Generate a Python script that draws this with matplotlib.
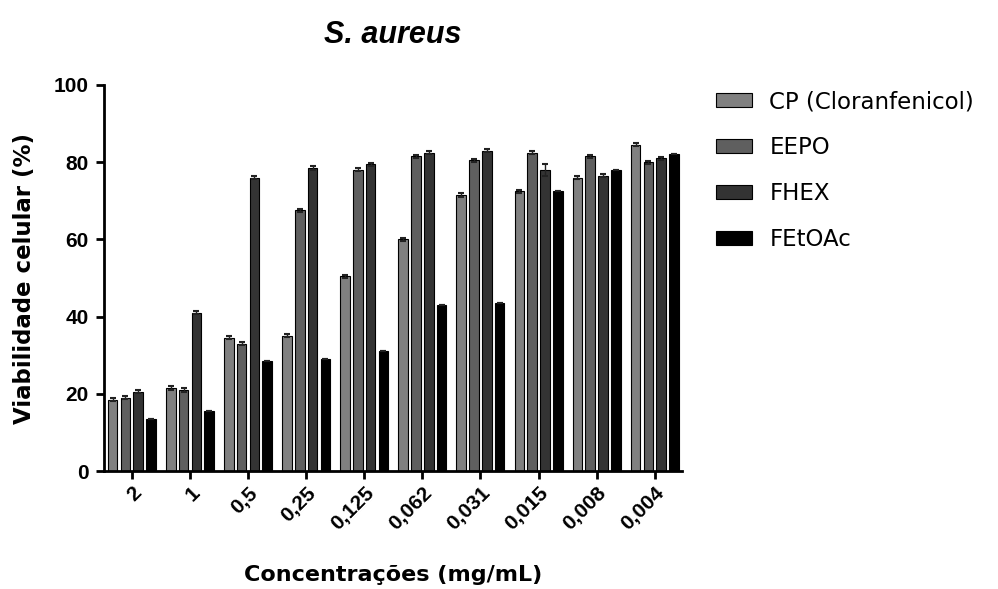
import numpy as np
import matplotlib
matplotlib.use('Agg')
import matplotlib.pyplot as plt

plt.rcParams['font.family'] = ['Liberation Sans', 'DejaVu Sans']

# concentrations (mg/mL)
conc = ['2', '1', '0,5', '0,25', '0,125', '0,062', '0,031', '0,015', '0,008', '0,004']

cp = [18.5, 21.5, 34.5, 35, 50.5, 60, 71.5, 72.5, 76, 84.5]
eepo = [19, 21, 33, 67.5, 78, 81.5, 80.5, 82.5, 81.5, 80]
fhex = [20.5, 41, 76, 78.5, 79.5, 82.5, 83, 78, 76.5, 81]
fetoac = [13.5, 15.5, 28.5, 29, 31, 43, 43.5, 72.5, 78, 82]

cp_err = [0.4, 0.4, 0.4, 0.4, 0.4, 0.4, 0.4, 0.4, 0.4, 0.4]
eepo_err = [0.4, 0.4, 0.4, 0.4, 0.4, 0.4, 0.4, 0.4, 0.4, 0.4]
fhex_err = [0.4, 0.4, 0.4, 0.4, 0.4, 0.4, 0.4, 1.5, 0.4, 0.4]
fetoac_err = [0, 0, 0, 0, 0, 0, 0, 0, 0, 0]

series = [('CP (Cloranfenicol)', cp, cp_err, '#808080'),
          ('EEPO', eepo, eepo_err, '#5f5f5f'),
          ('FHEX', fhex, fhex_err, '#333333'),
          ('FEtOAc', fetoac, fetoac_err, '#000000')]

fig = plt.figure(figsize=(9.98, 5.89), dpi=100)
ax = fig.add_axes([0.1042, 0.2003, 0.5792, 0.6554])

x = np.arange(len(conc))
step = 0.22
width = 0.165
for i, (name, vals, err, col) in enumerate(series):
    pos = x + (i - 1.5) * step
    ax.bar(pos, vals, width, color=col, edgecolor='black', linewidth=0.8,
           label=name, yerr=err, capsize=2.5,
           error_kw=dict(ecolor='#222222', elinewidth=1, capthick=1.5))

ax.set_xlim(-0.48, 9.47)
ax.set_ylim(0, 100)
ax.set_yticks([0, 20, 40, 60, 80, 100])
ax.set_xticks(x)
ax.set_xticklabels(conc, rotation=45, ha='right', rotation_mode='anchor')

for s in ['top', 'right']:
    ax.spines[s].set_visible(False)
for s in ['left', 'bottom']:
    ax.spines[s].set_linewidth(2)
ax.tick_params(axis='both', width=2, length=6, direction='out', labelsize=15)
ax.tick_params(axis='x', pad=3)
ax.tick_params(axis='y', pad=5)

for lab in ax.get_xticklabels() + ax.get_yticklabels():
    lab.set_fontweight('bold')

ax.set_ylabel('Viabilidade celular (%)', fontsize=16.5, fontweight='bold',
              family='DejaVu Sans', labelpad=13)
ax.set_xlabel('Concentrações (mg/mL)', fontsize=16, fontweight='bold',
              family='DejaVu Sans', labelpad=22)
ax.set_title('S. aureus', fontsize=22, fontweight='bold', style='italic', pad=30)

fig.legend(loc='upper left', bbox_to_anchor=(0.697, 0.882), frameon=False,
           prop={'family': 'DejaVu Sans', 'size': 16.5},
           handlelength=1.57, handleheight=0.58,
           labelspacing=1.0, handletextpad=0.75)

fig.savefig('out.png', dpi=100)
